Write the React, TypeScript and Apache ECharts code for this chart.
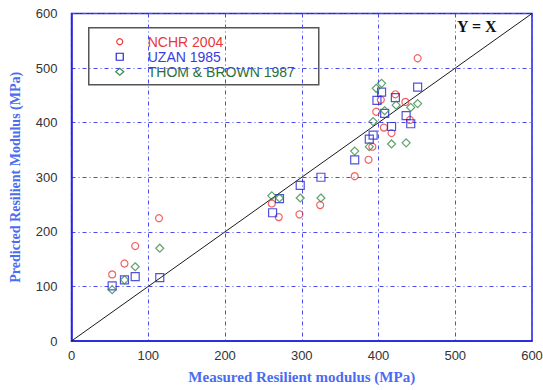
import React, { useEffect, useRef } from "react";
import * as echarts from "echarts";

const xTicks = [0, 100, 200, 300, 400, 500, 600];
const yTicks = [0, 100, 200, 300, 400, 500, 600];

const seriesNames = ["NCHR 2004", "UZAN 1985", "THOM & BROWN 1987"];

const nchr2004: [number, number][] = [
  [53, 122], [69, 142], [83, 174], [114, 225], [261, 252], [270, 227], [297, 232],
  [324, 249], [369, 302], [387, 332], [392, 356], [397, 420], [403, 442], [407, 391],
  [417, 381], [422, 452], [435, 438], [441, 405], [451, 518],
];
const uzan1985: [number, number][] = [
  [53, 101], [69, 112], [83, 118], [115, 116], [262, 235], [271, 261], [298, 285],
  [325, 300], [369, 332], [388, 370], [393, 377], [398, 441], [404, 456], [408, 417],
  [417, 393], [422, 446], [436, 413], [442, 398], [451, 465],
];
const thomBrown1987: [number, number][] = [
  [53, 94], [69, 112], [83, 136], [115, 170], [261, 266], [271, 262], [298, 262],
  [325, 262], [369, 348], [388, 356], [393, 402], [397, 463], [404, 472], [408, 422],
  [417, 361], [423, 432], [436, 363], [442, 428], [451, 435],
];
const identityLine: [number, number][] = [[0, 0], [600, 600]];

const RED = "#ee3a3a";
const BLUE = "#2626d6";
const GREEN = "#3a8a4a";

export default function App() {
  const ref = useRef<HTMLDivElement>(null);
  useEffect(() => {
    if (!ref.current) return;
    const chart = echarts.init(ref.current, undefined, { renderer: "svg" });
    const gridLine = { show: true, lineStyle: { color: "#4a4af2", width: 1, type: [4, 3, 1, 3] } };
    const hollow = (c: string) => ({ color: "rgba(0,0,0,0)", borderColor: c, borderWidth: 1.2 });
    const legendFont = "14px 'Liberation Sans'";
    chart.setOption({
      animation: false,
      backgroundColor: "#ffffff",
      grid: {
        left: 71.5, right: 11, top: 13.5, bottom: 49, containLabel: false,
        outerBoundsMode: "none",
        show: true, borderColor: "#2020e0", borderWidth: 1.5, backgroundColor: "transparent",
      },
      xAxis: {
        type: "value", min: 0, max: 600, interval: 100,
        name: "Measured Resilient modulus (MPa)", nameLocation: "middle", nameGap: 28,
        nameTextStyle: { color: "#4a6cf2", fontFamily: "Liberation Serif", fontWeight: "bold", fontSize: 15 },
        axisLine: { show: true, onZero: false, lineStyle: { color: "#2020e0", width: 1.5 } },
        axisTick: { show: false },
        axisLabel: { color: "#333", fontFamily: "Liberation Sans", fontSize: 13, margin: 8,
          formatter: (v: number) => (xTicks.includes(v) ? String(v) : "") },
        splitLine: gridLine,
      },
      yAxis: {
        type: "value", min: 0, max: 600, interval: 100,
        name: "Predicted Resilient Modulus (MPa)", nameLocation: "middle", nameGap: 49,
        nameTextStyle: { color: "#4a6cf2", fontFamily: "Liberation Serif", fontWeight: "bold", fontSize: 14 },
        axisLine: { show: true, onZero: false, lineStyle: { color: "#2020e0", width: 1.5 } },
        axisTick: { show: false },
        axisLabel: { color: "#333", fontFamily: "Liberation Sans", fontSize: 13, margin: 14,
          formatter: (v: number) => (yTicks.includes(v) ? String(v) : "") },
        splitLine: gridLine,
      },
      series: [
        {
          type: "line", data: identityLine, symbol: "none", silent: true, z: 1,
          lineStyle: { color: "#1a1a1a", width: 1 },
        },
        { name: seriesNames[0], type: "scatter", data: nchr2004, symbol: "circle", symbolSize: 7, itemStyle: hollow(RED), z: 3 },
        { name: seriesNames[1], type: "scatter", data: uzan1985, symbol: "rect", symbolSize: 8, itemStyle: hollow(BLUE), z: 3 },
        { name: seriesNames[2], type: "scatter", data: thomBrown1987, symbol: "diamond", symbolSize: 8, itemStyle: hollow(GREEN), z: 3 },
      ],
      graphic: [
        {
          type: "text", left: 457, top: 18,
          style: { text: "Y = X", fill: "#111", font: "bold 16px 'Liberation Serif'" },
        },
        {
          type: "group", left: 88, top: 27,
          children: [
            { type: "rect", shape: { x: 0, y: 0, width: 230, height: 57 }, style: { fill: "#fff", stroke: "#555", lineWidth: 1.5 } },
            { type: "circle", shape: { cx: 31, cy: 14, r: 3 }, style: { fill: "none", stroke: RED, lineWidth: 1.2 } },
            { type: "rect", shape: { x: 27.5, y: 25.5, width: 7, height: 7 }, style: { fill: "none", stroke: BLUE, lineWidth: 1.2 } },
            { type: "polygon", shape: { points: [[31, 40.5], [35, 44], [31, 47.5], [27, 44]] }, style: { fill: "none", stroke: GREEN, lineWidth: 1.2 } },
            { type: "text", x: 59, y: 14, style: { text: seriesNames[0], fill: "#e8383a", font: legendFont, lineHeight: 14, verticalAlign: "middle" } },
            { type: "text", x: 59, y: 29, style: { text: seriesNames[1], fill: "#3a3ae2", font: legendFont, lineHeight: 14, verticalAlign: "middle" } },
            { type: "text", x: 59, y: 44, style: { text: seriesNames[2], fill: "#2b6e3b", font: legendFont, lineHeight: 14, verticalAlign: "middle" } },
          ],
        },
      ],
    });
    return () => chart.dispose();
  }, []);
  return <div ref={ref} style={{ position: "fixed", left: 0, top: 0, width: 543, height: 390 }} />;
}
